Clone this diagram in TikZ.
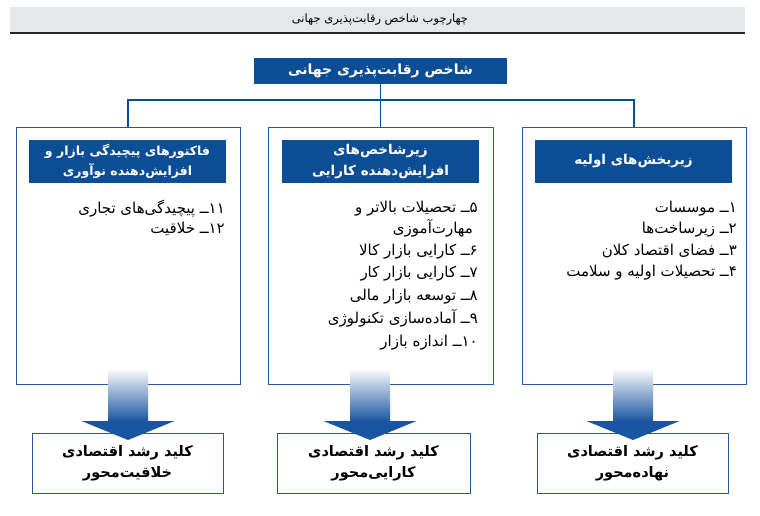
\documentclass[tikz,border=0pt]{standalone}
\usepackage{fontspec}
\TeXXeTstate=1
\newfontfamily\fa[Script=Arabic]{DejaVu Sans}
\newcommand\RL[1]{\beginR#1\endR}
\definecolor{dblue}{RGB}{12,78,150}
\definecolor{lblue}{RGB}{40,90,150}
\definecolor{ablue}{RGB}{25,85,160}
\definecolor{hgray}{RGB}{230,231,232}
\tikzset{
  headbox/.style={fill=dblue, text=white, font=\fa\bfseries\fontsize{13.5}{21}\selectfont, align=center, inner sep=0pt},
  outerbox/.style={draw=lblue, line width=0.9pt, inner sep=0pt},
  conn/.style={draw=dblue, line width=1.6pt},
  keybox/.style={draw=lblue, line width=0.9pt, fill=white, minimum width=191pt, minimum height=60pt, inner sep=0pt, align=center, font=\fa\bfseries\fontsize{14.5}{21}\selectfont},
  item/.style={anchor=base east, inner sep=0pt, font=\fa\fontsize{15}{18}\selectfont},
}
\newcommand\blockarrow[1]{%
  \shade[top color=white, bottom color=ablue] (#1-20,368) rectangle (#1+20,421.5);
  \fill[ablue] (#1-46.5,421) -- (#1+46.5,421) -- (#1,440) -- cycle;}
\begin{document}
\begin{tikzpicture}[x=1pt,y=-1pt]
\useasboundingbox (0,0) rectangle (760,516);
% header band
\fill[hgray] (10,7) rectangle (745,33);
\draw[line width=1.3pt, black!85] (10,33) -- (745,33);
\node[font=\fa\fontsize{11.5}{13}\selectfont, inner sep=0pt] (title) at (380,20) {\RL{چهارچوب شاخص رقابت‌پذیری جهانی}};
% top box
\node[headbox, minimum width=253pt, minimum height=26pt, font=\fa\bfseries\fontsize{14}{20}\selectfont] (top) at (380.5,71) {\RL{شاخص رقابت‌پذیری جهانی}};
% outer boxes
\node[outerbox, minimum width=224pt, minimum height=257pt] (boxL) at (128,255.5) {};
\node[outerbox, minimum width=225pt, minimum height=257pt] (boxM) at (380.5,255.5) {};
\node[outerbox, minimum width=224pt, minimum height=257pt] (boxR) at (634,255.5) {};
% connectors
\coordinate (bus) at (380,100);
\draw[conn] (top.south) -- (top.south |- bus);
\draw[conn] ([xshift=-0.8pt]boxL.north |- bus) -- ([xshift=0.8pt]boxR.north |- bus);
\draw[conn] (boxL.north |- bus) -- (boxL.north);
\draw[conn] (boxM.north |- bus) -- (boxM.north);
\draw[conn] (boxR.north |- bus) -- (boxR.north);
% heading boxes
\node[headbox, minimum width=197pt, minimum height=43pt, font=\fa\bfseries\fontsize{12.5}{20.5}\selectfont] (hL) at (127.5,161.5) {\RL{فاکتورهای پیچیدگی بازار و}\\\RL{افزایش‌دهنده نوآوری}};
\node[headbox, minimum width=197pt, minimum height=43pt] (hM) at (380.5,161.5) {\RL{زیرشاخص‌های}\\\RL{افزایش‌دهنده کارایی}};
\node[headbox, minimum width=197pt, minimum height=43pt] (hR) at (633.5,161.5) {\RL{زیربخش‌های اولیه}};
% right list
\node[item] (r1) at (737,212) {\RL{۱ــ موسسات}};
\node[item] (r2) at (737,233.5) {\RL{۲ــ زیرساخت‌ها}};
\node[item] (r3) at (737,255) {\RL{۳ــ فضای اقتصاد کلان}};
\node[item] (r4) at (737,276.5) {\RL{۴ــ تحصیلات اولیه و سلامت}};
% middle list
\node[item] (m1) at (478,212) {\RL{۵ــ تحصیلات بالاتر و}};
\node[item] (m2) at (473,233.5) {\RL{مهارت‌آموزی}};
\node[item] (m3) at (478,255) {\RL{۶ــ کارایی بازار کالا}};
\node[item] (m4) at (478,277) {\RL{۷ــ کارایی بازار کار}};
\node[item] (m5) at (478,300) {\RL{۸ــ توسعه بازار مالی}};
\node[item] (m6) at (478,323) {\RL{۹ــ آماده‌سازی تکنولوژی}};
\node[item] (m7) at (478,346) {\RL{۱۰ــ اندازه بازار}};
% left list
\node[item] (l1) at (225,213) {\RL{۱۱ــ پیچیدگی‌های تجاری}};
\node[item] (l2) at (225,233) {\RL{۱۲ــ خلاقیت}};
% key boxes
\node[keybox] (kL) at (127.5,463) {\RL{کلید رشد اقتصادی}\\\RL{خلاقیت‌محور}};
\node[keybox, minimum width=193pt] (kM) at (373.5,463) {\RL{کلید رشد اقتصادی}\\\RL{کارایی‌محور}};
\node[keybox] (kR) at (632.5,463) {\RL{کلید رشد اقتصادی}\\\RL{نهاده‌محور}};
% block arrows
\blockarrow{128}
\blockarrow{370}
\blockarrow{633}
\end{tikzpicture}
\end{document}
